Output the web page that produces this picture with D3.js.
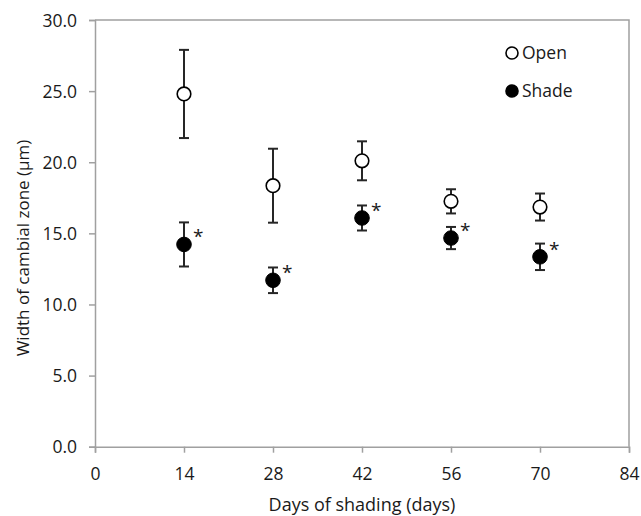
<!DOCTYPE html>
<html>
<head>
<meta charset="utf-8">
<script src="https://cdn.jsdelivr.net/npm/d3@7"></script>
<style>
  html, body { margin: 0; padding: 0; background: #fff; }
  svg text { font-family: "Open Sans", "Noto Sans", sans-serif; fill: #1a1a1a; }
</style>
</head>
<body>
<svg id="chart" width="641" height="516"></svg>
<script>
// ---- data ----
const days = [14, 28, 42, 56, 70];
const openMean = [24.8, 18.35, 20.1, 17.25, 16.85];
const openErr = [3.1, 2.6, 1.37, 0.85, 0.95];
const shadeMean = [14.22, 11.7, 16.08, 14.67, 13.35];
const shadeErr = [1.55, 0.9, 0.88, 0.78, 0.93];
const xTicks = [0, 14, 28, 42, 56, 70, 84];
const yTicks = [0, 5, 10, 15, 20, 25, 30];
const seriesNames = ["Open", "Shade"];
const xTitle = "Days of shading (days)";
const yTitle = "Width of cambial zone (\u00b5m)";

// ---- layout ----
const svg = d3.select("#chart");
const m = { left: 95, top: 20, right: 629, bottom: 446.7 };
const x = d3.scaleLinear().domain([0, 84]).range([m.left, m.right]);
const y = d3.scaleLinear().domain([0, 30]).range([m.bottom, m.top]);
const axisColor = "#a0a0a0";
const ink = "#1a1a1a";

// frame (top and right)
svg.append("path")
  .attr("d", `M${m.left},${m.top}H${m.right}V${m.bottom}`)
  .attr("fill", "none").attr("stroke", axisColor).attr("stroke-width", 1.5);

// axes
const xAxis = d3.axisBottom(x).tickValues(xTicks).tickSize(6).tickPadding(15)
  .tickFormat(d3.format("d"));
const gx = svg.append("g").attr("transform", `translate(0,${m.bottom})`).call(xAxis);
const yAxis = d3.axisLeft(y).tickValues(yTicks).tickSize(6).tickPadding(12)
  .tickFormat(d3.format(".1f"));
const gy = svg.append("g").attr("transform", `translate(${m.left},0)`).call(yAxis);
[gx, gy].forEach(g => {
  g.select(".domain").attr("stroke", axisColor).attr("stroke-width", 1.5);
  g.selectAll(".tick line").attr("stroke", axisColor).attr("stroke-width", 1.5);
  g.selectAll(".tick text").style("font-size", "17.5px").attr("fill", ink);
});
gy.selectAll(".tick text").attr("dy", "0.35em");

// titles
svg.append("text").attr("x", (m.left + m.right) / 2).attr("y", 511)
  .attr("text-anchor", "middle").style("font-size", "18px").text(xTitle);
svg.append("text")
  .attr("transform", `translate(29,248) rotate(-90)`)
  .attr("text-anchor", "middle").style("font-size", "17px").text(yTitle);

// series
function drawSeries(means, errs, filled, r) {
  const data = days.map((d, i) => ({ d, v: means[i], e: errs[i] }));
  const g = svg.append("g");
  const eb = g.selectAll("g.eb").data(data).join("g").attr("class", "eb");
  eb.append("line")
    .attr("x1", p => x(p.d)).attr("x2", p => x(p.d))
    .attr("y1", p => y(p.v + p.e)).attr("y2", p => y(p.v - p.e))
    .attr("stroke", "#262626").attr("stroke-width", 2);
  [1, -1].forEach(s => {
    eb.append("line")
      .attr("x1", p => x(p.d) - 5).attr("x2", p => x(p.d) + 5)
      .attr("y1", p => y(p.v + s * p.e)).attr("y2", p => y(p.v + s * p.e))
      .attr("stroke", "#262626").attr("stroke-width", 2);
  });
  g.selectAll("circle").data(data).join("circle")
    .attr("cx", p => x(p.d)).attr("cy", p => y(p.v)).attr("r", r)
    .attr("fill", filled ? "#000" : "#fff")
    .attr("stroke", "#000").attr("stroke-width", filled ? 1 : 1.6);
  return data;
}
drawSeries(openMean, openErr, false, 6.8);
const sd = drawSeries(shadeMean, shadeErr, true, 7.3);

// significance asterisks
svg.append("g").selectAll("text").data(sd).join("text")
  .attr("x", p => x(p.d) + 9).attr("y", p => y(p.v) - 1)
  .style("font-size", "19px").text("*");

// legend
const leg = svg.append("g");
seriesNames.forEach((name, i) => {
  const cy = 53 + i * 38;
  leg.append("circle").attr("cx", 512).attr("cy", cy).attr("r", 6)
    .attr("fill", i === 0 ? "#fff" : "#000").attr("stroke", "#000").attr("stroke-width", 1.6);
  leg.append("text").attr("x", 522).attr("y", cy + 6).style("font-size", "17.5px").text(name);
});
</script>
</body>
</html>
